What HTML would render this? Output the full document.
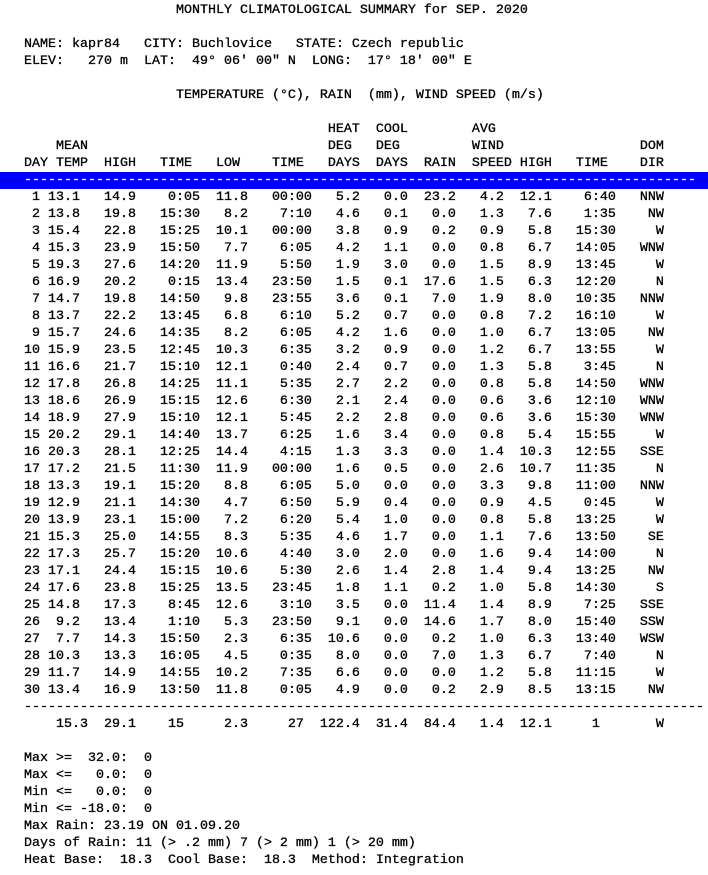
<!DOCTYPE html>
<html><head><meta charset="utf-8"><style>
html,body{margin:0;padding:0;background:#fff;width:708px;height:875px;overflow:hidden}
pre{margin:0;padding-top:2px;font-family:"Liberation Mono","DejaVu Sans Mono",monospace;font-size:13.33px;line-height:17px;color:#000;position:relative;-webkit-text-stroke:0.3px #000;}
.bar{background:#0000ff;color:#fff;display:inline-block;width:708px;-webkit-text-stroke:0.3px #fff}
</style></head><body><pre>                      MONTHLY CLIMATOLOGICAL SUMMARY for SEP. 2020

   NAME: kapr84   CITY: Buchlovice   STATE: Czech republic
   ELEV:   270 m  LAT:  49° 06' 00" N  LONG:  17° 18' 00" E

                      TEMPERATURE (°C), RAIN  (mm), WIND SPEED (m/s)

                                         HEAT  COOL        AVG
       MEAN                              DEG   DEG         WIND                 DOM
   DAY TEMP  HIGH   TIME   LOW    TIME   DAYS  DAYS  RAIN  SPEED HIGH   TIME    DIR
<span class="bar">   ------------------------------------------------------------------------------------</span>
    1 13.1   14.9    0:05  11.8   00:00   5.2   0.0  23.2   4.2  12.1    6:40   NNW
    2 13.8   19.8   15:30   8.2    7:10   4.6   0.1   0.0   1.3   7.6    1:35    NW
    3 15.4   22.8   15:25  10.1   00:00   3.8   0.9   0.2   0.9   5.8   15:30     W
    4 15.3   23.9   15:50   7.7    6:05   4.2   1.1   0.0   0.8   6.7   14:05   WNW
    5 19.3   27.6   14:20  11.9    5:50   1.9   3.0   0.0   1.5   8.9   13:45     W
    6 16.9   20.2    0:15  13.4   23:50   1.5   0.1  17.6   1.5   6.3   12:20     N
    7 14.7   19.8   14:50   9.8   23:55   3.6   0.1   7.0   1.9   8.0   10:35   NNW
    8 13.7   22.2   13:45   6.8    6:10   5.2   0.7   0.0   0.8   7.2   16:10     W
    9 15.7   24.6   14:35   8.2    6:05   4.2   1.6   0.0   1.0   6.7   13:05    NW
   10 15.9   23.5   12:45  10.3    6:35   3.2   0.9   0.0   1.2   6.7   13:55     W
   11 16.6   21.7   15:10  12.1    0:40   2.4   0.7   0.0   1.3   5.8    3:45     N
   12 17.8   26.8   14:25  11.1    5:35   2.7   2.2   0.0   0.8   5.8   14:50   WNW
   13 18.6   26.9   15:15  12.6    6:30   2.1   2.4   0.0   0.6   3.6   12:10   WNW
   14 18.9   27.9   15:10  12.1    5:45   2.2   2.8   0.0   0.6   3.6   15:30   WNW
   15 20.2   29.1   14:40  13.7    6:25   1.6   3.4   0.0   0.8   5.4   15:55     W
   16 20.3   28.1   12:25  14.4    4:15   1.3   3.3   0.0   1.4  10.3   12:55   SSE
   17 17.2   21.5   11:30  11.9   00:00   1.6   0.5   0.0   2.6  10.7   11:35     N
   18 13.3   19.1   15:20   8.8    6:05   5.0   0.0   0.0   3.3   9.8   11:00   NNW
   19 12.9   21.1   14:30   4.7    6:50   5.9   0.4   0.0   0.9   4.5    0:45     W
   20 13.9   23.1   15:00   7.2    6:20   5.4   1.0   0.0   0.8   5.8   13:25     W
   21 15.3   25.0   14:55   8.3    5:35   4.6   1.7   0.0   1.1   7.6   13:50    SE
   22 17.3   25.7   15:20  10.6    4:40   3.0   2.0   0.0   1.6   9.4   14:00     N
   23 17.1   24.4   15:15  10.6    5:30   2.6   1.4   2.8   1.4   9.4   13:25    NW
   24 17.6   23.8   15:25  13.5   23:45   1.8   1.1   0.2   1.0   5.8   14:30     S
   25 14.8   17.3    8:45  12.6    3:10   3.5   0.0  11.4   1.4   8.9    7:25   SSE
   26  9.2   13.4    1:10   5.3   23:50   9.1   0.0  14.6   1.7   8.0   15:40   SSW
   27  7.7   14.3   15:50   2.3    6:35  10.6   0.0   0.2   1.0   6.3   13:40   WSW
   28 10.3   13.3   16:05   4.5    0:35   8.0   0.0   7.0   1.3   6.7    7:40     N
   29 11.7   14.9   14:55  10.2    7:35   6.6   0.0   0.0   1.2   5.8   11:15     W
   30 13.4   16.9   13:50  11.8    0:05   4.9   0.0   0.2   2.9   8.5   13:15    NW
   -------------------------------------------------------------------------------------
       15.3  29.1    15     2.3     27  122.4  31.4  84.4   1.4  12.1     1       W

   Max &gt;=  32.0:  0
   Max &lt;=   0.0:  0
   Min &lt;=   0.0:  0
   Min &lt;= -18.0:  0
   Max Rain: 23.19 ON 01.09.20
   Days of Rain: 11 (&gt; .2 mm) 7 (&gt; 2 mm) 1 (&gt; 20 mm)
   Heat Base:  18.3  Cool Base:  18.3  Method: Integration
</pre></body></html>
